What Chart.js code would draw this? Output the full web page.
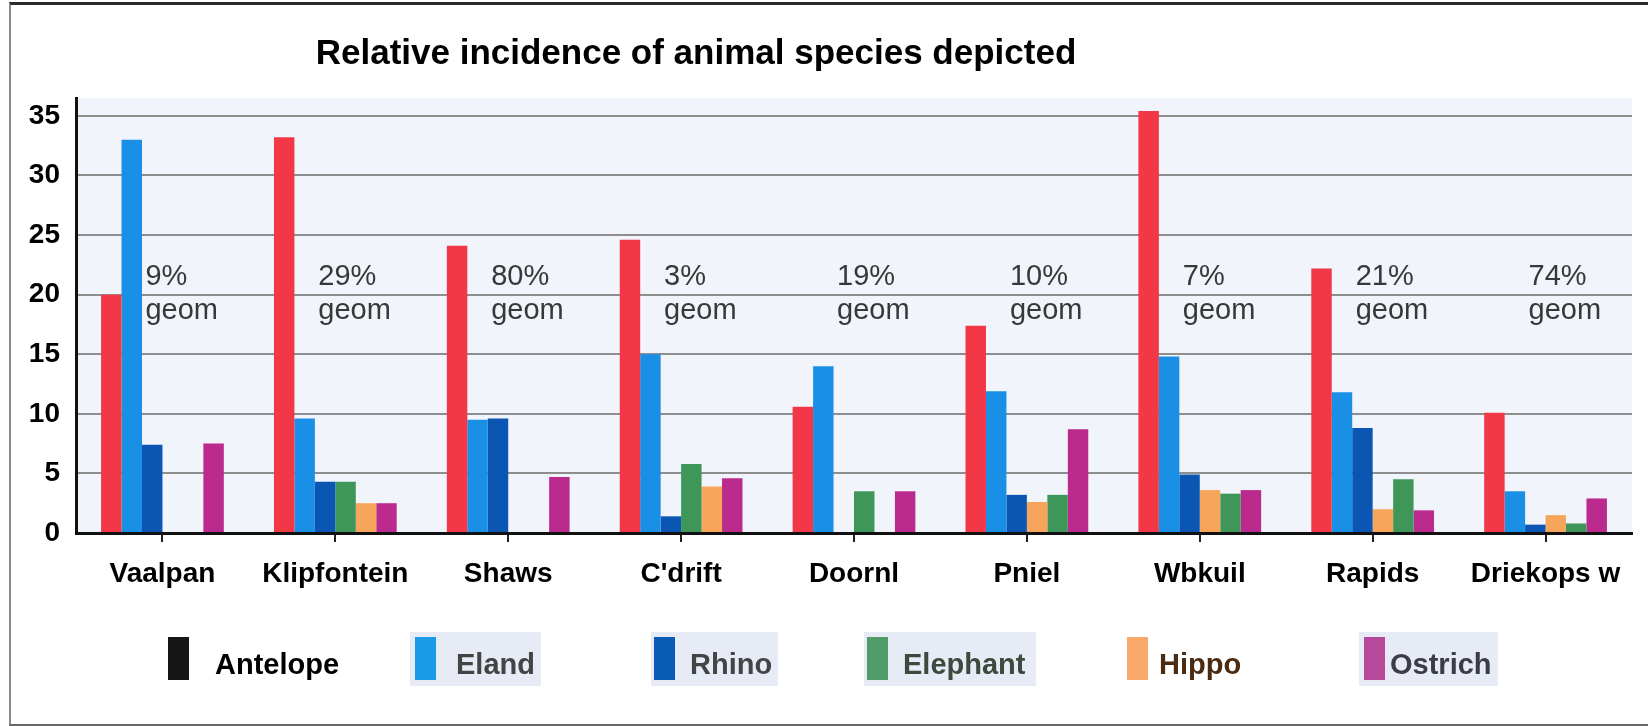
<!DOCTYPE html>
<html>
<head>
<meta charset="utf-8">
<title>Relative incidence of animal species depicted</title>
<script src="https://cdn.jsdelivr.net/npm/chart.js@4.4.1/dist/chart.umd.min.js"></script>
<style>
html,body{margin:0;padding:0;background:#fff;}
#wrap{position:relative;width:1648px;height:726px;}
#frame{position:absolute;left:9px;top:2px;right:0;bottom:0;border-top:3px solid #2a2a2a;border-left:2px solid #888;border-bottom:2px solid #666;pointer-events:none;}
canvas{display:block;}
</style>
</head>
<body>
<div id="wrap">
<canvas id="chart" width="1648" height="726"></canvas>
<div id="frame"></div>
</div>
<script>
const sites = ["Vaalpan","Klipfontein","Shaws","C'drift","Doornl","Pniel","Wbkuil","Rapids","Driekops w"];
const antelope = [20.0,33.2,24.1,24.6,10.6,17.4,35.4,22.2,10.1];
const eland    = [33.0,9.6,9.5,15.0,14.0,11.9,14.8,11.8,3.5];
const rhino    = [7.4,4.3,9.6,1.4,0,3.2,4.9,8.8,0.7];
const elephant = [0,4.3,0,5.8,3.5,3.2,3.3,4.5,0.8];
const hippo    = [0,2.5,0,3.9,0,2.6,3.6,2.0,1.5];
const ostrich  = [7.5,2.5,4.7,4.6,3.5,8.7,3.6,1.9,2.9];
const geomShare = ["9%","29%","80%","3%","19%","10%","7%","21%","74%"];
// in these sites the hippo bar sits before the elephant bar
const hippoFirst = [false,false,false,false,false,true,true,true,true];

const legendNames = ["Antelope","Eland","Rhino","Elephant","Hippo","Ostrich"];

const FONT = "'Liberation Sans', Arial, sans-serif";

const barColor = {
antelope:"#f23847",
eland:"#1a8fe6",
rhino:"#0b56b2",
elephant:"#3e9659",
hippo:"#f8a55c",
ostrich:"#bb2a8d"
};

const slot4 = sites.map((s,i)=>hippoFirst[i] ? hippo[i] : elephant[i]);
const slot5 = sites.map((s,i)=>hippoFirst[i] ? elephant[i] : hippo[i]);
const slot4Color = hippoFirst.map(h=>h ? barColor.hippo : barColor.elephant);
const slot5Color = hippoFirst.map(h=>h ? barColor.elephant : barColor.hippo);

// legend as laid out on the original sheet
const legendItems = [
{name:legendNames[0], color:"#161616", text:"#000", x:168, tx:215, bg:null},
{name:legendNames[1], color:"#1a9be8", text:"#444", x:415, tx:456, bg:[410,131]},
{name:legendNames[2], color:"#0a5bb5", text:"#444", x:654, tx:690, bg:[651,127]},
{name:legendNames[3], color:"#519c6a", text:"#3c4a3e", x:867, tx:903, bg:[864,172]},
{name:legendNames[4], color:"#f7a86a", text:"#4a2c12", x:1127, tx:1159, bg:null},
{name:legendNames[5], color:"#b8489a", text:"#3c3c48", x:1364, tx:1390, bg:[1359,139]}
];

const sheetPlugin = {
id:"sheet",
beforeDraw(chart){
const {ctx, chartArea:a} = chart;
ctx.save();
ctx.fillStyle = "#f1f5fb";
ctx.fillRect(a.left, a.top, a.right-a.left, a.bottom-a.top);
ctx.restore();
},
afterDatasetsDraw(chart){
const ctx = chart.ctx;
const xs = chart.scales.x, ys = chart.scales.y;
ctx.save();
ctx.font = "29px " + FONT;
ctx.fillStyle = "#383838";
ctx.textAlign = "left";
ctx.textBaseline = "alphabetic";
geomShare.forEach((g,i)=>{
let x = xs.getPixelForValue(i) - 17;
let y = ys.getPixelForValue(20.8);
ctx.fillText(g, x, y);
ctx.fillText("geom", x, y+34);
});
ctx.restore();
},
afterDraw(chart){
const ctx = chart.ctx;
ctx.save();
ctx.fillStyle = "#000";
ctx.font = "bold 35px " + FONT;
ctx.textAlign = "center";
ctx.textBaseline = "alphabetic";
ctx.fillText("Relative incidence of animal species depicted", 696, 64);

ctx.textAlign = "left";
ctx.font = "bold 29px " + FONT;
legendItems.forEach(it=>{
if(it.bg){
ctx.fillStyle = "#e6ebf6";
ctx.fillRect(it.bg[0], 632, it.bg[1], 54);
}
ctx.fillStyle = it.color;
ctx.fillRect(it.x, 637, 21, 43);
ctx.fillStyle = it.text;
ctx.fillText(it.name, it.tx, 674);
});
ctx.restore();
}
};

new Chart(document.getElementById("chart"),{
type:"bar",
data:{
labels:sites,
datasets:[
{label:"Antelope", data:antelope, backgroundColor:barColor.antelope},
{label:"Eland", data:eland, backgroundColor:barColor.eland},
{label:"Rhino", data:rhino, backgroundColor:barColor.rhino},
{label:"Elephant / Hippo", data:slot4, backgroundColor:slot4Color},
{label:"Hippo / Elephant", data:slot5, backgroundColor:slot5Color},
{label:"Ostrich", data:ostrich, backgroundColor:barColor.ostrich}
]
},
options:{
responsive:false,
animation:false,
layout:{padding:{top:98,right:16,left:0,bottom:0}},
datasets:{bar:{categoryPercentage:0.71, barPercentage:1.0, borderWidth:0}},
plugins:{legend:{display:false}, title:{display:false}, tooltip:{enabled:false}},
scales:{
x:{
afterFit(s){ s.height = 726-533; },
ticks:{font:{family:FONT,size:28,weight:"bold"}, color:"#000", padding:15, autoSkip:false, maxRotation:0},
grid:{offset:false, drawOnChartArea:false, drawTicks:true, tickLength:9, color:"#222", lineWidth:2},
border:{display:true, color:"#111", width:3}
},
y:{
min:0, max:36.5,
afterFit(s){ s.width = 76; },
ticks:{stepSize:5, includeBounds:false, font:{family:FONT,size:28,weight:"bold"}, color:"#000", padding:16},
grid:{color:"#8e8e8e", lineWidth:2, drawTicks:false},
border:{display:true, color:"#111", width:3}
}
}
},
plugins:[sheetPlugin]
});
</script>
</body>
</html>
